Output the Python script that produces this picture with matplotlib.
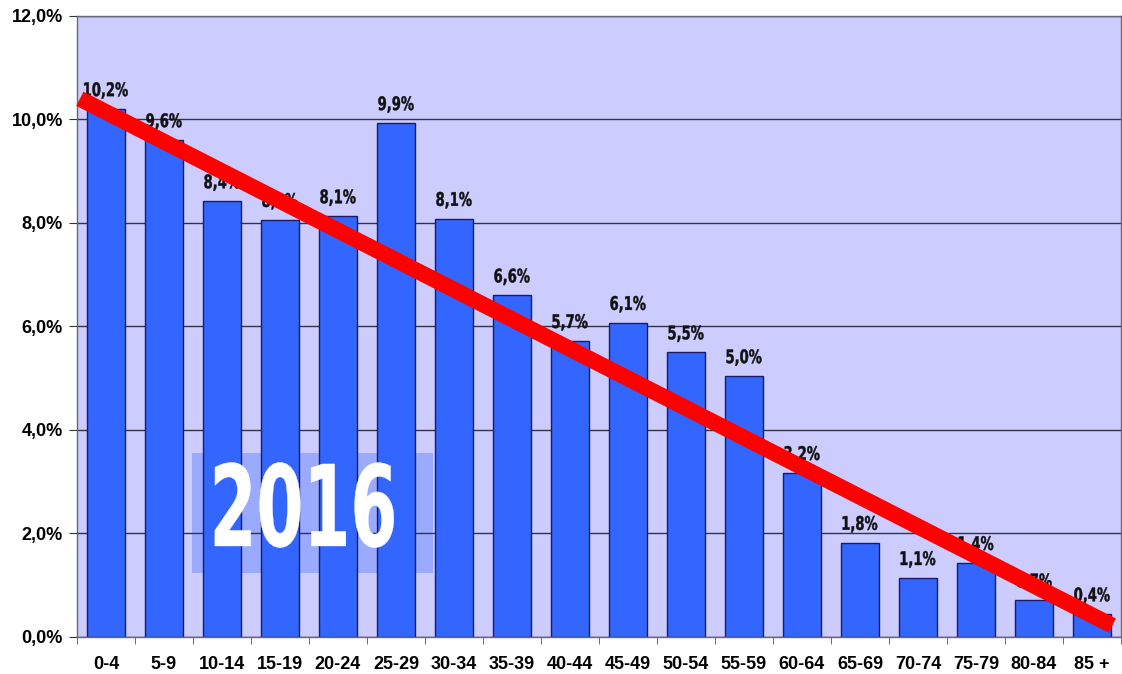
import matplotlib
matplotlib.use("Agg")
import matplotlib.pyplot as plt
from matplotlib.patches import Rectangle, PathPatch
from matplotlib.textpath import TextPath
from matplotlib.font_manager import FontProperties
from matplotlib.transforms import Affine2D, ScaledTranslation

# Altersgruppen und Anteile (in %)
groups = ['0-4', '5-9', '10-14', '15-19', '20-24', '25-29', '30-34', '35-39',
          '40-44', '45-49', '50-54', '55-59', '60-64', '65-69', '70-74',
          '75-79', '80-84', '85 +']
shares = [10.2, 9.6, 8.42, 8.06, 8.13, 9.93, 8.08, 6.6, 5.72, 6.07, 5.5,
          5.04, 3.17, 1.82, 1.14, 1.43, 0.71, 0.44]
yticks = [0, 2, 4, 6, 8, 10, 12]
year = '2016'
# Trendlinie (Anfang/Ende)
trend_x = [-0.45, 17.35]
trend_y = [10.4, 0.22]

DPI = 100
plt.rcParams['font.family'] = ['Liberation Sans', 'DejaVu Sans']


def narrow_text(ax, x, y, s, size, stretch, color, zorder, va='bottom'):
    # schmale Schrift nachbilden: Textpfad horizontal stauchen
    fp = FontProperties(family='DejaVu Sans', weight='bold')
    tp = TextPath((0, 0), s, size=size, prop=fp)
    ext = tp.get_extents()
    k = DPI / 72.0
    dx = -(ext.x0 + ext.x1) / 2
    dy = -ext.y0 if va == 'bottom' else -(ext.y0 + ext.y1) / 2
    tr = (Affine2D().translate(dx, dy).scale(stretch * k, k)
          + ScaledTranslation(x, y, ax.transData))
    ax.add_patch(PathPatch(tp, transform=tr, facecolor=color,
                           edgecolor=color, linewidth=0.3, zorder=zorder,
                           clip_on=False))


fig = plt.figure(figsize=(11.22, 6.74), dpi=DPI)
ax = fig.add_axes([0.0686, 0.0549, 0.9305, 0.9214])
ax.set_facecolor('#ccccff')

x = range(len(groups))
ax.bar(x, shares, width=0.655, color='#3366ff', edgecolor='#1a1a66',
       linewidth=1, zorder=2)

# halbtransparenter Kasten hinter dem Jahr
ax.add_patch(Rectangle((1.48, 1.24), 4.16, 2.32, facecolor='#9aaaff',
                       edgecolor='none', zorder=0.5))

for xi, v in zip(x, shares):
    narrow_text(ax, xi, v + 0.2, f'{v:.1f}%'.replace('.', ','), 13.5, 0.7,
                '#111111', 3)

ax.plot(trend_x, trend_y, color='#ff0000', linewidth=11.5,
        solid_capstyle='butt', zorder=4, clip_on=False)

narrow_text(ax, 3.42, 2.55, year, 81, 0.6, 'white', 5, va='center')

ax.set_xlim(-0.5, len(groups) - 0.5)
ax.set_ylim(0, 12)
ax.set_yticks(yticks)
ax.set_yticklabels([f'{t},0%' for t in yticks], fontsize=13,
                   fontweight='bold')
ax.set_xticks(x)
ax.set_xticklabels(groups, fontsize=13, fontweight='bold')
ax.set_xticks([i - 0.5 for i in range(len(groups) + 1)], minor=True)
ax.tick_params(axis='x', which='major', length=0, pad=14)
ax.tick_params(axis='x', which='minor', length=5, color='#555555')
ax.tick_params(axis='y', length=6, color='#333333', pad=4)
ax.yaxis.grid(True, color='#333344', linewidth=1, zorder=0.8)
ax.set_axisbelow(True)
for s in ax.spines.values():
    s.set_color('#666677')
    s.set_linewidth(1)

fig.savefig('out.png', dpi=DPI)
